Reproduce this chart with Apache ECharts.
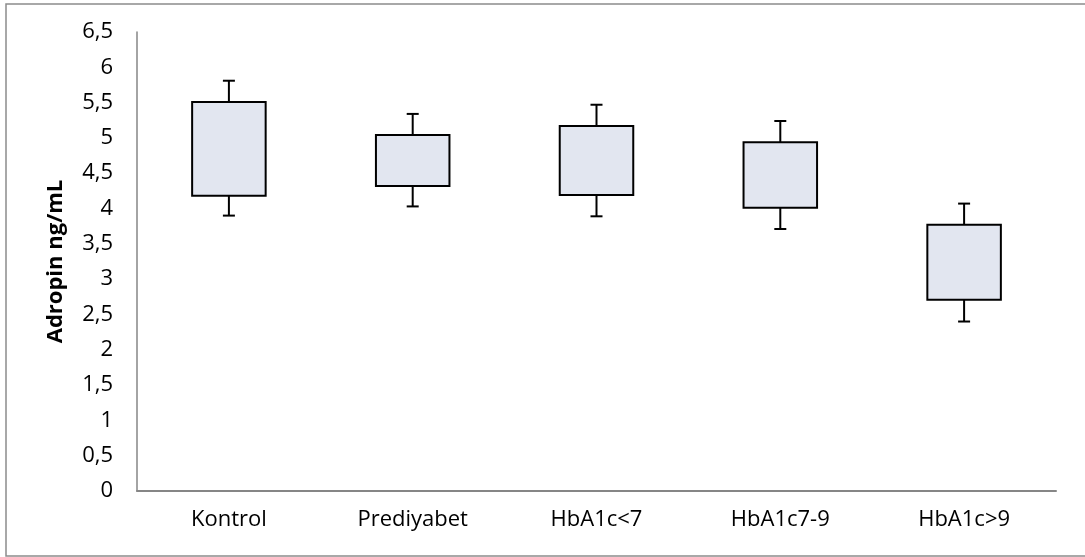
<!DOCTYPE html>
<html>
<head>
<meta charset="utf-8">
<script src="https://cdn.jsdelivr.net/npm/echarts@6/dist/echarts.min.js"></script>
<style>
  html, body { margin: 0; padding: 0; background: #fff; }
  #chart { width: 1085px; height: 557px; }
</style>
</head>
<body>
<div id="chart"></div>
<script>
const categories = ['Kontrol', 'Prediyabet', 'HbA1c<7', 'HbA1c7-9', 'HbA1c>9'];
const boxLow = [4.18, 4.32, 4.19, 4.01, 2.71];
const boxHigh = [5.51, 5.04, 5.17, 4.94, 3.77];
const whiskerLow = [3.90, 4.03, 3.89, 3.71, 2.40];
const whiskerHigh = [5.81, 5.34, 5.47, 5.24, 4.07];

const chart = echarts.init(document.getElementById('chart'));

// one row per group: index, box low/high, whisker low/high
const rows = categories.map((c, i) => [i, boxLow[i], boxHigh[i], whiskerLow[i], whiskerHigh[i]]);

function renderBox(params, api) {
  const x = api.value(0);
  const pLow = api.coord([x, api.value(1)]);
  const pHigh = api.coord([x, api.value(2)]);
  const wLow = api.coord([x, api.value(3)]);
  const wHigh = api.coord([x, api.value(4)]);
  const w = api.size([1, 0])[0] * 0.4;
  const cap = 6;
  const line = { stroke: '#000', lineWidth: 2 };
  return {
    type: 'group',
    children: [
      { type: 'line', shape: { x1: pHigh[0], y1: pHigh[1], x2: wHigh[0], y2: wHigh[1] }, style: line },
      { type: 'line', shape: { x1: wHigh[0] - cap, y1: wHigh[1], x2: wHigh[0] + cap, y2: wHigh[1] }, style: line },
      { type: 'line', shape: { x1: pLow[0], y1: pLow[1], x2: wLow[0], y2: wLow[1] }, style: line },
      { type: 'line', shape: { x1: wLow[0] - cap, y1: wLow[1], x2: wLow[0] + cap, y2: wLow[1] }, style: line },
      {
        type: 'rect',
        shape: { x: pHigh[0] - w / 2, y: pHigh[1], width: w, height: pLow[1] - pHigh[1] },
        style: { fill: '#e2e6f0', stroke: '#000', lineWidth: 2 }
      }
    ]
  };
}

chart.setOption({
  animation: false,
  textStyle: { fontFamily: 'Open Sans' },
  graphic: [{
    type: 'rect',
    shape: { x: 6, y: 4, width: 1100, height: 552 },
    style: { fill: 'none', stroke: '#8c8c8c', lineWidth: 1.5 }
  }],
  grid: { left: 137, top: 32, right: 29, bottom: 66 },
  xAxis: {
    type: 'category',
    data: categories,
    axisLine: { lineStyle: { color: '#868686', width: 2 } },
    axisTick: { show: false },
    axisLabel: { color: '#000', fontSize: 22, margin: 18 }
  },
  yAxis: {
    type: 'value',
    min: 0,
    max: 6.5,
    interval: 0.5,
    name: 'Adropin ng/mL',
    nameLocation: 'middle',
    nameGap: 70,
    nameTextStyle: { color: '#000', fontSize: 22, fontWeight: 'bold' },
    axisLine: { show: true, lineStyle: { color: '#868686', width: 1.5 } },
    axisTick: { show: false },
    splitLine: { show: false },
    axisLabel: {
      color: '#000',
      fontSize: 22,
      margin: 24,
      formatter: v => String(v).replace('.', ',')
    }
  },
  series: [{
    type: 'custom',
    renderItem: renderBox,
    encode: { x: 0, y: [1, 2, 3, 4] },
    data: rows
  }]
});
</script>
</body>
</html>
